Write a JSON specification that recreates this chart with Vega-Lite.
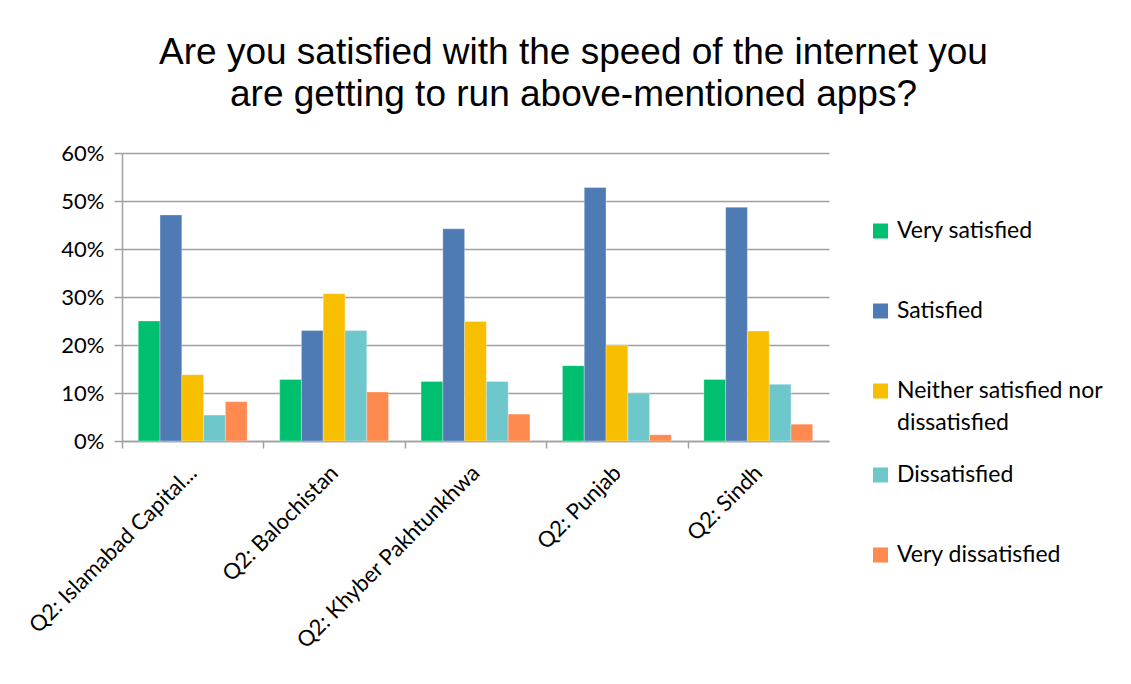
{
  "$schema": "https://vega.github.io/schema/vega-lite/v6.json",
  "width": 707,
  "height": 288,
  "autosize": {"type": "none"},
  "padding": {"left": 122, "top": 153, "right": 302, "bottom": 243},
  "background": "white",
  "title": {
    "text": ["Are you satisfied with the speed of the internet you", "are getting to run above-mentioned apps?"],
    "font": "Liberation Sans",
    "fontSize": 37,
    "fontWeight": "normal",
    "color": "#000000",
    "lineHeight": 42,
    "anchor": "middle",
    "frame": "group",
    "dx": 98,
    "offset": 28
  },
  "data": {
    "values": [
      {"region": "Q2: Islamabad Capital Territory", "response": "Very satisfied", "pct": 25.0},
      {"region": "Q2: Islamabad Capital Territory", "response": "Satisfied", "pct": 47.1},
      {"region": "Q2: Islamabad Capital Territory", "response": "Neither satisfied nor dissatisfied", "pct": 13.8},
      {"region": "Q2: Islamabad Capital Territory", "response": "Dissatisfied", "pct": 5.4},
      {"region": "Q2: Islamabad Capital Territory", "response": "Very dissatisfied", "pct": 8.2},
      {"region": "Q2: Balochistan", "response": "Very satisfied", "pct": 12.8},
      {"region": "Q2: Balochistan", "response": "Satisfied", "pct": 23.0},
      {"region": "Q2: Balochistan", "response": "Neither satisfied nor dissatisfied", "pct": 30.7},
      {"region": "Q2: Balochistan", "response": "Dissatisfied", "pct": 23.0},
      {"region": "Q2: Balochistan", "response": "Very dissatisfied", "pct": 10.2},
      {"region": "Q2: Khyber Pakhtunkhwa", "response": "Very satisfied", "pct": 12.4},
      {"region": "Q2: Khyber Pakhtunkhwa", "response": "Satisfied", "pct": 44.2},
      {"region": "Q2: Khyber Pakhtunkhwa", "response": "Neither satisfied nor dissatisfied", "pct": 24.9},
      {"region": "Q2: Khyber Pakhtunkhwa", "response": "Dissatisfied", "pct": 12.4},
      {"region": "Q2: Khyber Pakhtunkhwa", "response": "Very dissatisfied", "pct": 5.6},
      {"region": "Q2: Punjab", "response": "Very satisfied", "pct": 15.7},
      {"region": "Q2: Punjab", "response": "Satisfied", "pct": 52.8},
      {"region": "Q2: Punjab", "response": "Neither satisfied nor dissatisfied", "pct": 19.9},
      {"region": "Q2: Punjab", "response": "Dissatisfied", "pct": 10.0},
      {"region": "Q2: Punjab", "response": "Very dissatisfied", "pct": 1.3},
      {"region": "Q2: Sindh", "response": "Very satisfied", "pct": 12.8},
      {"region": "Q2: Sindh", "response": "Satisfied", "pct": 48.7},
      {"region": "Q2: Sindh", "response": "Neither satisfied nor dissatisfied", "pct": 22.9},
      {"region": "Q2: Sindh", "response": "Dissatisfied", "pct": 11.8},
      {"region": "Q2: Sindh", "response": "Very dissatisfied", "pct": 3.5}
    ]
  },
  "mark": {"type": "bar", "stroke": "white", "strokeWidth": 0.5, "strokeOpacity": 0.6},
  "encoding": {
    "x": {
      "field": "region",
      "type": "nominal",
      "sort": null,
      "scale": {"paddingInner": 0.23, "paddingOuter": 0.115},
      "axis": {
        "title": null,
        "labelAngle": -45,
        "labelAlign": "right",
        "labelBaseline": "middle",
        "labelFont": "Lato",
        "labelFontSize": 22,
        "labelColor": "#000000",
        "labelPadding": 21,
        "labelLimit": 400,
        "labelExpr": "datum.label == 'Q2: Islamabad Capital Territory' ? 'Q2: Islamabad Capital...' : datum.label",
        "tickOffset": -70.7,
        "labelOffset": 70.7,
        "tickColor": "#a0a0a0",
        "tickWidth": 1.5,
        "tickSize": 7,
        "domainColor": "#a0a0a0",
        "domainWidth": 1.5
      }
    },
    "xOffset": {
      "field": "response",
      "type": "nominal",
      "sort": ["Very satisfied", "Satisfied", "Neither satisfied nor dissatisfied", "Dissatisfied", "Very dissatisfied"],
      "scale": {"paddingInner": 0, "paddingOuter": 0}
    },
    "y": {
      "field": "pct",
      "type": "quantitative",
      "scale": {"domain": [0, 60], "nice": false},
      "axis": {
        "title": null,
        "values": [0, 10, 20, 30, 40, 50, 60],
        "labelExpr": "datum.value + '%'",
        "labelFont": "Lato",
        "labelFontSize": 22,
        "labelColor": "#000000",
        "labelPadding": 10,
        "tickColor": "#a0a0a0",
        "tickWidth": 1.5,
        "tickSize": 8,
        "domainColor": "#a0a0a0",
        "domainWidth": 1.5,
        "gridColor": "#a0a0a0",
        "gridWidth": 1.5
      }
    },
    "color": {
      "field": "response",
      "type": "nominal",
      "scale": {
        "domain": ["Very satisfied", "Satisfied", "Neither satisfied nor dissatisfied", "Dissatisfied", "Very dissatisfied"],
        "range": ["#00bf6f", "#4f7bb5", "#f8be00", "#6dc7cb", "#ff8a4f"]
      },
      "legend": {
        "title": null,
        "orient": "none",
        "legendX": 747,
        "legendY": 38,
        "symbolType": "square",
        "symbolSize": 225,
        "symbolStrokeWidth": 0,
        "symbolOpacity": 1,
        "labelFont": "Lato",
        "labelFontSize": 23,
        "labelColor": "#000000",
        "labelLimit": 400,
        "labelOffset": 5,
        "clipHeight": 80,
        "rowPadding": 0,
        "labelExpr": "datum.label == 'Neither satisfied nor dissatisfied' ? ['Neither satisfied nor', 'dissatisfied'] : datum.label"
      }
    }
  },
  "config": {"view": {"stroke": null}, "style": {"guide-label": {"lineHeight": 32}}}
}
